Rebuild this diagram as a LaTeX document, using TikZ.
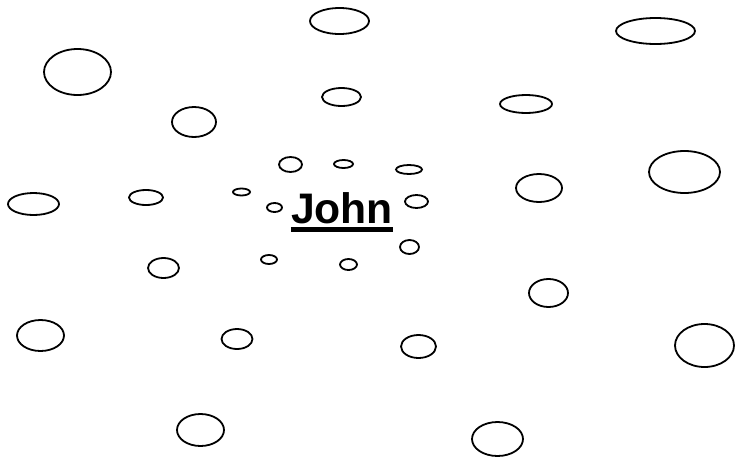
\documentclass[tikz,border=0pt]{standalone}
\usepackage{fontspec}
\setmainfont{Liberation Sans}
\usepackage{tikz}
\usetikzlibrary{shapes.geometric}
\tikzset{
  bubble/.style 2 args={
    draw, ellipse, line width=1.8pt, inner sep=0pt, minimum width=#1, minimum height=#2
  },
  namelabel/.style={font=\fontsize{42.7}{48}\selectfont\bfseries, inner sep=0pt, anchor=base},
  nameline/.style={line width=4.3pt}
}
\begin{document}
\begin{tikzpicture}[x=1pt, y=-1pt]
  \useasboundingbox (0,0) rectangle (738,461);
  \node[bubble={67pt}{46pt}] (b1) at (77.5,72) {};
  \node[bubble={44pt}{30pt}] (b2) at (194,122) {};
  \node[bubble={59pt}{26pt}] (b3) at (339.5,21) {};
  \node[bubble={39pt}{18pt}] (b4) at (341.5,97) {};
  \node[bubble={79pt}{26pt}] (b5) at (655.5,31) {};
  \node[bubble={52pt}{18pt}] (b6) at (526,104) {};
  \node[bubble={51pt}{22pt}] (b7) at (33.5,204) {};
  \node[bubble={34pt}{15pt}] (b8) at (146,197.5) {};
  \node[bubble={17pt}{7pt}] (b9) at (241.5,192) {};
  \node[bubble={31pt}{20pt}] (b10) at (163.5,268) {};
  \node[bubble={23pt}{15pt}] (b11) at (290.5,164.5) {};
  \node[bubble={19pt}{8pt}] (b12) at (343.5,164) {};
  \node[bubble={26pt}{9pt}] (b13) at (409,169.5) {};
  \node[bubble={15pt}{9pt}] (b14) at (274.5,207.5) {};
  \node[bubble={23pt}{13pt}] (b15) at (416.5,201.5) {};
  \node[bubble={19pt}{14pt}] (b16) at (409.5,247) {};
  \node[bubble={16pt}{9pt}] (b17) at (269,259.5) {};
  \node[bubble={17pt}{11pt}] (b18) at (348.5,264.5) {};
  \node[bubble={46pt}{28pt}] (b19) at (539,188) {};
  \node[bubble={71pt}{42pt}] (b20) at (684.5,172) {};
  \node[bubble={39pt}{28pt}] (b21) at (548.5,293) {};
  \node[bubble={47pt}{31pt}] (b22) at (40.5,335.5) {};
  \node[bubble={31pt}{20pt}] (b23) at (237,339) {};
  \node[bubble={47pt}{32pt}] (b24) at (200.5,430) {};
  \node[bubble={35pt}{23pt}] (b25) at (418.5,346.5) {};
  \node[bubble={51pt}{34pt}] (b26) at (497.5,439) {};
  \node[bubble={59pt}{43pt}] (b27) at (704.5,345.5) {};
  \node[namelabel] (john) at (342,223) {John};
  \draw[nameline] ([yshift=-6.5pt]john.base west) -- ([yshift=-6.5pt]john.base east);
\end{tikzpicture}
\end{document}
